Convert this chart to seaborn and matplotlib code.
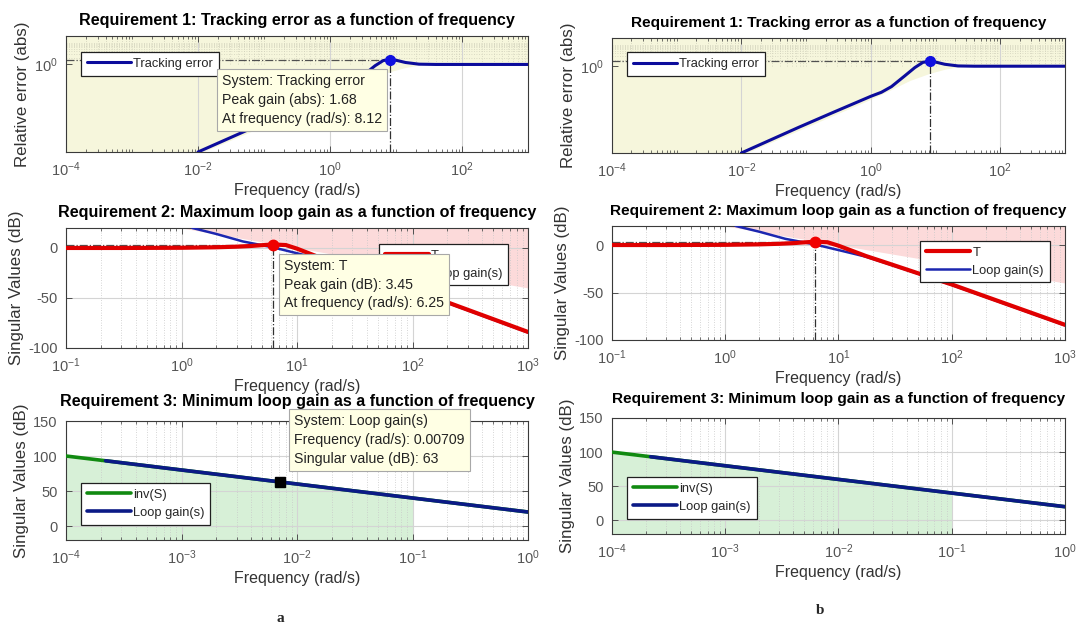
import numpy as np
import pandas as pd
import matplotlib
matplotlib.use("Agg")
import matplotlib.pyplot as plt
import seaborn as sns
from matplotlib.ticker import (FixedLocator, LogLocator, NullLocator,
                               NullFormatter, LogFormatterSciNotation)

# ---------------- data ----------------
# Requirement 1: tracking error (abs) and its bound
track_freq = [1e-2, 0.076, 0.25, 1.0, 1.46, 2.09, 3.35, 4.8, 6.4, 8.12, 9.8, 13.9,
              22.3, 40, 100, 1000]
track_err = [1e-4, 1.5e-3, 7e-3, 0.041, 0.063, 0.115, 0.36, 0.87, 1.51, 1.68, 1.58,
             1.23, 1.03, 1.0, 1.0, 1.0]
track_bound_freq = [1e-4, 1e-2, 1.0, 2.0, 4.0, 8.12, 14, 22, 40, 1000]
track_bound = [1e-6, 8e-5, 0.03, 0.08, 0.22, 0.47, 0.73, 0.93, 1.0, 1.0]
track_peak_freq, track_peak_gain = 8.12, 1.68

# Requirement 2: complementary sensitivity T, loop gain and max-gain bound (dB)
t_freq = [0.1, 0.3, 1, 2, 3, 4, 5, 6.25, 8, 10, 13, 17.5, 30, 50, 100, 200, 500, 1000]
t_db = [0, 0, 0.2, 0.7, 1.3, 2.0, 2.8, 3.45, 2.9, -0.7, -5.8, -11.6, -20.8, -29.6,
        -41.5, -54.3, -71.2, -84]
lg_freq = [1.24, 2, 3.4, 6.25, 10, 17.5, 30, 50, 100, 200, 500, 1000]
lg_db = [20, 14, 6.5, 0.5, -5.3, -12.3, -21.3, -30, -42, -54.8, -71.7, -84.5]
max_bound_freq = [0.1, 1, 10, 100, 1000]
max_bound_db = [20, 20, 0, -20, -40]
t_peak_freq, t_peak_db = 6.25, 3.45

# Requirement 3: inv(S), loop gain and min-gain bound (dB)
inv_freq = [1e-4, 2.2e-4, 1e-3, 1e-2, 1e-1, 1]
inv_db = [100, 93.2, 80, 60, 40, 20]
lg3_freq = [2.2e-4, 1e-3, 1e-2, 1e-1, 1]
lg3_db = [93.2, 80, 60, 40, 20]
min_bound_freq = [1e-4, 1e-3, 1e-2, 1e-1]
min_bound_db = [100, 79.5, 58.5, 37.5]
tip3_freq, tip3_db = 0.00709, 63

# ---------------- style ----------------
sns.set_theme(style="white")
plt.rcParams["font.family"] = ["Liberation Sans", "DejaVu Sans"]
plt.rcParams["axes.unicode_minus"] = False
plt.rcParams["mathtext.fontset"] = "custom"
plt.rcParams["mathtext.rm"] = "Liberation Sans"
plt.rcParams["mathtext.it"] = "Liberation Sans:italic"
plt.rcParams["mathtext.bf"] = "Liberation Sans:bold"

TRACK_BLUE = "#0c0c9c"
T_RED = "#e00000"
LOOP_BLUE = "#1c26b0"
LOOP_NAVY = "#0b1a86"
INV_GREEN = "#118a11"
YELLOW = "#f6f6dc"
PINK = "#fcdada"
GREEN_FILL = "#d7f0d7"
FRAME = "#3a3a3a"
TICKLAB = "#555555"
LABEL = "#333333"
TIP_FC = "#ffffe4"
TIP_EC = "#a8a8a8"

fig = plt.figure(figsize=(10.77, 6.28), dpi=100)

COL_A = (0.0613, 0.4290)
COL_B = (0.5682, 0.4206)
ROWS_A = [(0.7580, 0.1847), (0.4459, 0.1911), (0.1401, 0.1895)]
ROWS_B = [(0.7564, 0.1831), (0.4586, 0.1815), (0.1497, 0.1847)]

TITLES = ["Requirement 1: Tracking error as a function of frequency",
          "Requirement 2: Maximum loop gain as a function of frequency",
          "Requirement 3: Minimum loop gain as a function of frequency"]
YLABELS = ["Relative error (abs)", "Singular Values (dB)", "Singular Values (dB)"]


def style_axes(ax, title, ylabel, title_size, title_pad):
    for s in ax.spines.values():
        s.set_color(FRAME)
        s.set_linewidth(0.8)
    ax.tick_params(which="both", direction="in", top=True, right=True,
                   bottom=True, left=True, colors=FRAME, labelcolor=TICKLAB,
                   labelsize=10.5)
    ax.tick_params(which="major", length=4, width=0.6, pad=6)
    ax.tick_params(which="minor", length=2, width=0.5)
    ax.set_title(title, fontsize=title_size, fontweight="bold", color="black",
                 pad=title_pad)
    ax.set_xlabel("Frequency (rad/s)", fontsize=11.5, color=LABEL, labelpad=3)
    ax.set_ylabel(ylabel, fontsize=12.2, color=LABEL, labelpad=3)


def log_x(ax, lo, hi, majors):
    ax.set_xscale("log")
    ax.set_xlim(lo, hi)
    ax.xaxis.set_major_locator(FixedLocator(majors))
    ax.xaxis.set_major_formatter(LogFormatterSciNotation())
    ax.xaxis.set_minor_locator(LogLocator(base=10, subs=np.arange(1, 10), numticks=50))
    ax.xaxis.set_minor_formatter(NullFormatter())


def datatip(ax, x, y, lines):
    ax.text(x, y, "\n".join(lines), transform=ax.transAxes, ha="left", va="top",
            fontsize=10.2, color="#222222", linespacing=1.45, zorder=20,
            clip_on=False,
            bbox=dict(boxstyle="square,pad=0.35", fc=TIP_FC, ec=TIP_EC, lw=0.8))


def legend(ax, handles, labels, x, y):
    lg = ax.legend(handles, labels, loc="upper left", bbox_to_anchor=(x, y),
                   fontsize=9.3, handlelength=3.4, handletextpad=0.2,
                   labelspacing=0.45, borderpad=0.45, fancybox=False,
                   framealpha=1, edgecolor="#202020", borderaxespad=0)
    lg.get_frame().set_linewidth(0.9)
    lg.set_zorder(8)
    return lg


def req1(ax, title_size):
    ax.set_yscale("log")
    log_x(ax, 1e-4, 1e3, [1e-4, 1e-2, 1, 1e2])
    ax.set_ylim(1e-4, 20)
    ax.yaxis.set_major_locator(FixedLocator([1]))
    ax.yaxis.set_major_formatter(LogFormatterSciNotation())
    ax.yaxis.set_minor_locator(NullLocator())
    ax.fill_between(track_bound_freq, track_bound, 20, color=YELLOW, lw=0, zorder=0)
    # dotted minor grid inside the upper band
    xmin = [k * 10.0 ** n for n in range(-4, 3) for k in range(1, 10)
            if not (k == 1 and n % 2 == 0)]
    ax.vlines(xmin, 1, 20, colors="#d2d2bc", linestyles=(0, (1, 2)), lw=0.6, zorder=0.5)
    ax.hlines([2, 3, 4, 5, 6, 7, 8, 9, 10], 1e-4, 1e3, colors="#d2d2bc",
              linestyles=(0, (1, 2)), lw=0.6, zorder=0.5)
    ax.grid(True, which="major", axis="x", color="#d4d4d4", lw=0.8, zorder=0.6)
    ax.set_axisbelow(True)
    # peak guides
    ax.hlines(track_peak_gain, 1e-4, track_peak_freq, colors="#505050",
              linestyles="-.", lw=0.9, zorder=2)
    ax.vlines(track_peak_freq, 1e-4, track_peak_gain, colors="#303030",
              linestyles="-.", lw=0.9, zorder=2)
    sns.lineplot(x=track_freq, y=track_err, ax=ax, color=TRACK_BLUE, lw=2.2,
                 zorder=3, estimator=None)
    h = ax.lines[-1]
    ax.plot([track_peak_freq], [track_peak_gain], "o", color="#1010e0", ms=7, zorder=4)
    style_axes(ax, TITLES[0], YLABELS[0], title_size, 8)
    return h


def req2(ax, title_size):
    log_x(ax, 0.1, 1e3, [0.1, 1, 10, 100, 1000])
    ax.set_ylim(-100, 20)
    ax.set_yticks([-100, -50, 0])
    ax.fill_between(max_bound_freq, max_bound_db, 20, color=PINK, lw=0, zorder=0)
    ax.grid(True, which="major", color="#d4d4d4", lw=0.8)
    ax.grid(True, which="minor", axis="x", color="#c8c8c8", ls=(0, (1, 2)), lw=0.6)
    ax.set_axisbelow(True)
    ax.hlines(t_peak_db, 0.1, t_peak_freq, colors="#505050", linestyles="-.", lw=0.9, zorder=2)
    ax.vlines(t_peak_freq, -100, t_peak_db, colors="#303030", linestyles="-.", lw=0.9, zorder=2)
    sns.lineplot(x=lg_freq, y=lg_db, ax=ax, color=LOOP_BLUE, lw=1.8, zorder=3, estimator=None)
    h_lg = ax.lines[-1]
    sns.lineplot(x=t_freq, y=t_db, ax=ax, color=T_RED, lw=3.0, zorder=3.5, estimator=None)
    h_t = ax.lines[-1]
    ax.plot([t_peak_freq], [t_peak_db], "o", color="#f00000", ms=7.5, zorder=4)
    style_axes(ax, TITLES[1], YLABELS[1], title_size, 8)
    return h_t, h_lg


def req3(ax, title_size):
    log_x(ax, 1e-4, 1, [1e-4, 1e-3, 1e-2, 1e-1, 1])
    ax.set_ylim(-20, 150)
    ax.set_yticks([0, 50, 100, 150])
    ax.fill_between(min_bound_freq, -20, min_bound_db, color=GREEN_FILL, lw=0, zorder=0)
    ax.grid(True, which="major", color="#d4d4d4", lw=0.8)
    ax.grid(True, which="minor", axis="x", color="#c8c8c8", ls=(0, (1, 2)), lw=0.6)
    ax.set_axisbelow(True)
    sns.lineplot(x=inv_freq, y=inv_db, ax=ax, color=INV_GREEN, lw=2.6, zorder=3, estimator=None)
    h_inv = ax.lines[-1]
    sns.lineplot(x=lg3_freq, y=lg3_db, ax=ax, color=LOOP_NAVY, lw=2.6, zorder=3.5, estimator=None)
    h_lg = ax.lines[-1]
    style_axes(ax, TITLES[2], YLABELS[2], title_size, 11)
    return h_inv, h_lg


# ---------------- panel a (with data tips) ----------------
axes_a = [fig.add_axes([COL_A[0], b, COL_A[1], h]) for b, h in ROWS_A]
h1 = req1(axes_a[0], 11.6)
legend(axes_a[0], [h1], ["Tracking error"], 0.032, 0.862)
datatip(axes_a[0], 0.338, 0.675,
        ["System: Tracking error", "Peak gain (abs): 1.68", "At frequency (rad/s): 8.12"])

ht, hl = req2(axes_a[1], 11.6)
legend(axes_a[1], [ht, hl], ["T", "Loop gain(s)"], 0.677, 0.867)
datatip(axes_a[1], 0.472, 0.745,
        ["System: T", "Peak gain (dB): 3.45", "At frequency (rad/s): 6.25"])

hi, hl3 = req3(axes_a[2], 11.6)
legend(axes_a[2], [hi, hl3], ["inv(S)", "Loop gain(s)"], 0.032, 0.479)
axes_a[2].plot([tip3_freq], [tip3_db], "s", color="black", ms=7.5, zorder=6)
datatip(axes_a[2], 0.494, 1.06,
        ["System: Loop gain(s)", "Frequency (rad/s): 0.00709", "Singular value (dB): 63"])

# ---------------- panel b ----------------
axes_b = [fig.add_axes([COL_B[0], b, COL_B[1], h]) for b, h in ROWS_B]
h1 = req1(axes_b[0], 11.1)
legend(axes_b[0], [h1], ["Tracking error"], 0.033, 0.875)
ht, hl = req2(axes_b[1], 11.1)
legend(axes_b[1], [ht, hl], ["T", "Loop gain(s)"], 0.68, 0.87)
hi, hl3 = req3(axes_b[2], 11.1)
legend(axes_b[2], [hi, hl3], ["inv(S)", "Loop gain(s)"], 0.033, 0.49)

fig.text(280 / 1077, 1 - 619 / 628, "a", ha="center", va="center",
         family=["Liberation Serif", "DejaVu Serif"], fontweight="bold", fontsize=11)
fig.text(820 / 1077, 1 - 611 / 628, "b", ha="center", va="center",
         family=["Liberation Serif", "DejaVu Serif"], fontweight="bold", fontsize=11)

fig.savefig("out.png", dpi=100, facecolor="white")
